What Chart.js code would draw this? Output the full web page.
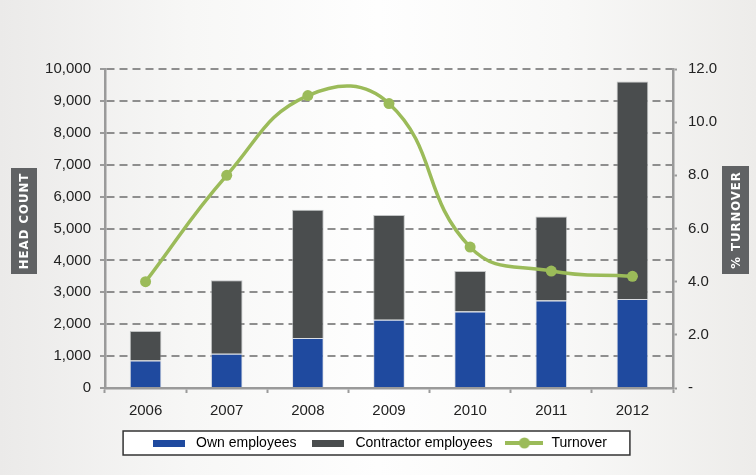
<!DOCTYPE html>
<html>
<head>
<meta charset="utf-8">
<script src="https://cdn.jsdelivr.net/npm/chart.js@4.4.0/dist/chart.umd.min.js"></script>
<style>
    html, body { margin: 0; padding: 0; }
    body {
        width: 756px;
        height: 475px;
        background: linear-gradient(to right, #ebeae9 0%, #f7f7f6 25%, #fefefe 50%, #f8f8f7 75%, #edecea 100%);
    }
    #chart { display: block; }
</style>
</head>
<body>
<canvas id="chart" width="756" height="475"></canvas>
<script>
// datos
const years = ['2006', '2007', '2008', '2009', '2010', '2011', '2012'];
const ownEmployees = [860, 1070, 1570, 2140, 2400, 2740, 2790];
const contractorEmployees = [930, 2310, 4020, 3280, 1270, 2640, 6820];
const turnover = [4.0, 8.0, 11.0, 10.7, 5.3, 4.4, 4.2];
const legendLabels = ['Own employees', 'Contractor employees', 'Turnover'];

const FONT = "'Liberation Sans', Arial, sans-serif";
const BLUE = '#1f4a9f';
const DARK = '#4a4d4e';
const GREEN = '#9bbb59';
const AXIS = '#9a9a9a';

// small legend markers
function makeSwatch(color) {
    const c = document.createElement('canvas');
    c.width = 32; c.height = 7;
    const g = c.getContext('2d');
    g.fillStyle = color;
    g.fillRect(0, 0, 32, 7);
    return c;
}

function makeLineMarker() {
    const c = document.createElement('canvas');
    c.width = 38; c.height = 12;
    const g = c.getContext('2d');
    g.strokeStyle = GREEN;
    g.lineWidth = 4;
    g.beginPath();
    g.moveTo(0, 6);
    g.lineTo(38, 6);
    g.stroke();
    g.fillStyle = GREEN;
    g.beginPath();
    g.arc(19, 6, 5.5, 0, Math.PI * 2);
    g.fill();
    return c;
}

const markers = [makeSwatch(BLUE), makeSwatch(DARK), makeLineMarker()];

// draws the legend frame and the two boxed axis titles
const decorations = {
    id: 'decorations',
    beforeDraw(chart) {
        const ctx = chart.ctx;
        const boxes = chart.legend.legendHitBoxes;
        if (boxes && boxes.length) {
            const first = boxes[0];
            const last = boxes[boxes.length - 1];
            const cy = first.top + first.height / 2;
            const x1 = first.left - 26;
            const x2 = last.left + last.width + 23;
            ctx.save();
            ctx.fillStyle = '#ffffff';
            ctx.fillRect(x1, cy - 12, x2 - x1, 24);
            ctx.strokeStyle = '#333333';
            ctx.lineWidth = 1.5;
            ctx.strokeRect(x1, cy - 12, x2 - x1, 24);
            ctx.restore();
        }

        const titleBox = (text, x, y, w, h) => {
            ctx.save();
            ctx.fillStyle = '#606264';
            ctx.fillRect(x, y, w, h);
            ctx.translate(x + w / 2, y + h / 2);
            ctx.rotate(-Math.PI / 2);
            ctx.fillStyle = '#ffffff';
            ctx.font = "bold 13px 'DejaVu Sans Condensed', Arial, sans-serif";
            ctx.letterSpacing = '1px';
            ctx.textAlign = 'center';
            ctx.textBaseline = 'middle';
            ctx.fillText(text, 0, 1);
            ctx.restore();
        };
        titleBox('HEAD COUNT', 11, 168, 26, 106);
        titleBox('% TURNOVER', 722, 166, 27, 108);
    }
};

const ctx = document.getElementById('chart').getContext('2d');

new Chart(ctx, {
    type: 'bar',
    data: {
        labels: years,
        datasets: [
            {
                label: legendLabels[0],
                data: ownEmployees,
                backgroundColor: BLUE,
                borderColor: 'rgba(200, 205, 215, 0.6)',
                borderWidth: 1,
                barPercentage: 0.39,
                categoryPercentage: 1,
                yAxisID: 'y',
                order: 1
            },
            {
                label: legendLabels[1],
                data: contractorEmployees,
                backgroundColor: DARK,
                borderColor: 'rgba(170, 172, 174, 0.7)',
                borderWidth: 1,
                barPercentage: 0.39,
                categoryPercentage: 1,
                yAxisID: 'y',
                order: 1
            },
            {
                type: 'line',
                label: legendLabels[2],
                data: turnover,
                borderColor: GREEN,
                backgroundColor: GREEN,
                borderWidth: 3.5,
                pointRadius: 5.5,
                pointBorderWidth: 0,
                pointBackgroundColor: GREEN,
                tension: 0.45,
                yAxisID: 'y1',
                order: 0
            }
        ]
    },
    options: {
        responsive: false,
        animation: false,
        layout: { padding: { top: 69, bottom: 15, left: 0, right: 0 } },
        plugins: {
            tooltip: { enabled: false },
            title: { display: false },
            legend: {
                position: 'bottom',
                labels: {
                    font: { family: FONT, size: 14 },
                    color: '#222222',
                    usePointStyle: true,
                    pointStyleWidth: 40,
                    padding: 12,
                    generateLabels: () => legendLabels.map((text, i) => ({
                        text: text,
                        pointStyle: markers[i],
                        fillStyle: 'transparent',
                        strokeStyle: 'transparent',
                        lineWidth: 0,
                        datasetIndex: i,
                        hidden: false
                    }))
                }
            }
        },
        scales: {
            x: {
                stacked: true,
                afterFit: s => { s.height = 36; },
                grid: {
                    offset: true,
                    drawOnChartArea: false,
                    drawTicks: true,
                    tickLength: 5,
                    tickColor: AXIS,
                    tickWidth: 2
                },
                border: { display: true, color: AXIS, width: 2.5 },
                ticks: {
                    font: { family: FONT, size: 15 },
                    color: '#222222',
                    padding: 9
                }
            },
            y: {
                stacked: true,
                position: 'left',
                min: 0,
                max: 10000,
                afterFit: s => { s.width = 105; },
                grid: {
                    color: '#8e8e8e',
                    lineWidth: 2,
                    drawTicks: true,
                    tickLength: 5,
                    tickColor: AXIS,
                    tickWidth: 2,
                    tickBorderDash: []
                },
                border: { display: true, color: AXIS, width: 2.5, dash: [8, 5] },
                ticks: {
                    stepSize: 1000,
                    font: { family: FONT, size: 15 },
                    color: '#222222',
                    padding: 9,
                    callback: v => v.toLocaleString('en-US')
                }
            },
            y1: {
                position: 'right',
                min: 0,
                max: 12,
                afterFit: s => { s.width = 83; },
                grid: {
                    drawOnChartArea: false,
                    drawTicks: true,
                    tickLength: 4,
                    tickColor: AXIS,
                    tickWidth: 2
                },
                border: { display: true, color: AXIS, width: 2.5 },
                ticks: {
                    stepSize: 2,
                    font: { family: FONT, size: 15 },
                    color: '#222222',
                    padding: 11,
                    callback: v => v === 0 ? '-' : v.toFixed(1)
                }
            }
        }
    },
    plugins: [decorations]
});
</script>
</body>
</html>
